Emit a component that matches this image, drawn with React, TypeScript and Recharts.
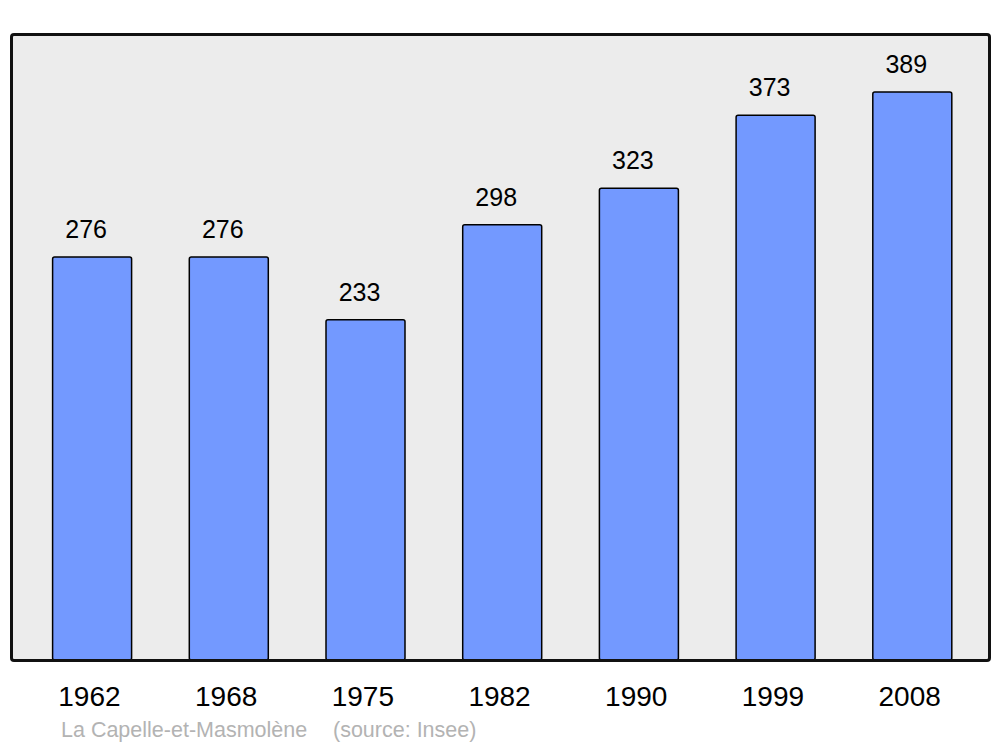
import { BarChart, Bar, XAxis, YAxis, CartesianGrid, LabelList } from "recharts";

const years = ["1962", "1968", "1975", "1982", "1990", "1999", "2008"];
const population = [276, 276, 233, 298, 323, 373, 389];
const commune = "La Capelle-et-Masmolène";
const source = "(source: Insee)";

const data = years.map((year, i) => ({ year, population: population[i] }));

const W = 1000;
const H = 747;
const margin = { top: 34, right: 11, left: 11, bottom: 27 };
const font = "'Liberation Sans', Arial, sans-serif";

const App = () => {
  return (
    <div
      style={{
        position: "fixed",
        top: 0,
        left: 0,
        width: W,
        height: H,
        background: "#fff",
        fontFamily: font,
      }}
    >
      <BarChart width={W} height={H} data={data} margin={margin}>
        <CartesianGrid
          fill="#ececec"
          stroke="none"
          horizontal={false}
          vertical={false}
        />
        <XAxis
          dataKey="year"
          height={60}
          axisLine={false}
          tickLine={false}
          tickSize={0}
          tickMargin={26}
          padding={{ left: 12.6, right: 8.5 }}
          interval={0}
          tick={{ fill: "#000", fontSize: 28, fontFamily: font, dx: -2.5 }}
        />
        <YAxis hide domain={[0, 428.7]} />
        <Bar
          dataKey="population"
          barSize={79}
          fill="#7399ff"
          stroke="#000"
          strokeWidth={1.5}
          radius={2}
          isAnimationActive={false}
        >
          <LabelList
            dataKey="population"
            position="top"
            offset={19}
            dx={-6}
            fill="#000"
            fontSize={25}
            fontFamily={font}
          />
        </Bar>
      </BarChart>
      <div
        style={{
          position: "absolute",
          left: margin.left - 1.5,
          top: margin.top - 1.5,
          width: W - margin.left - margin.right + 3,
          height: H - margin.top - margin.bottom - 60 + 3,
          boxSizing: "border-box",
          border: "3px solid #111",
          borderRadius: 4,
          pointerEvents: "none",
        }}
      />
      <svg
        width={W}
        height={H}
        style={{ position: "absolute", left: 0, top: 0, pointerEvents: "none" }}
      >
        <text x={61} y={737} fill="#b3b3b3" fontSize={21.5} fontFamily={font}>
          {commune}
        </text>
        <text x={333} y={737} fill="#b3b3b3" fontSize={21.5} fontFamily={font}>
          {source}
        </text>
      </svg>
    </div>
  );
};

export default App;
